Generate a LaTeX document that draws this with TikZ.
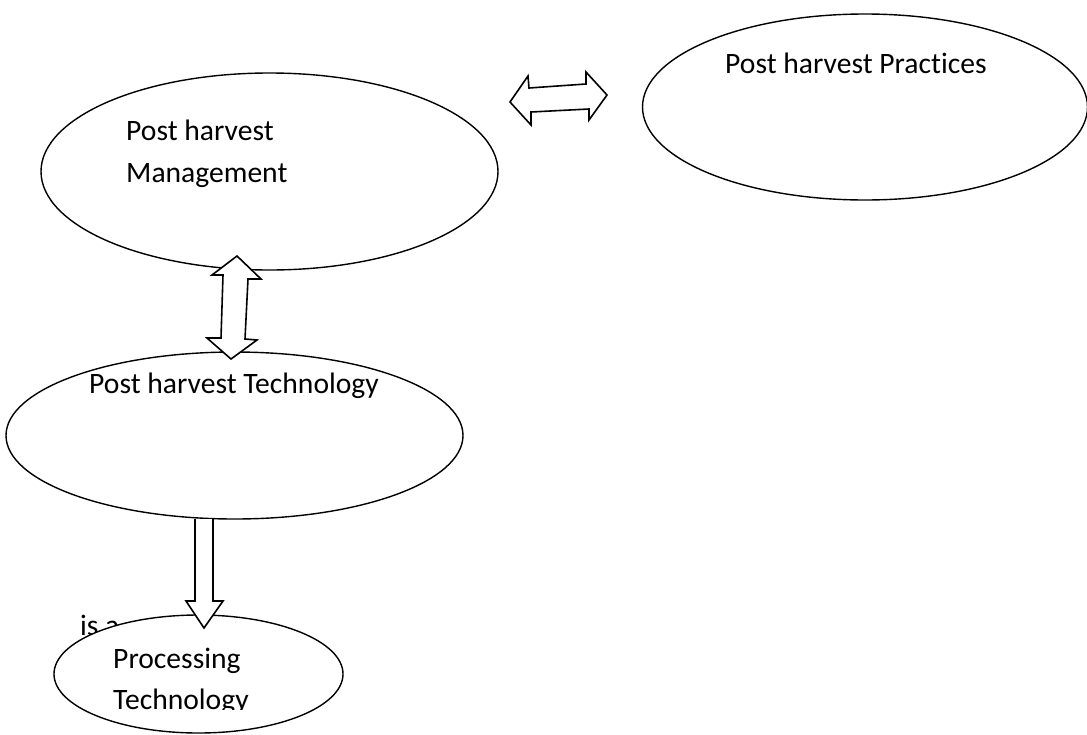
\documentclass[tikz,border=0pt]{standalone}
\usepackage{fontspec}
\setmainfont{Carlito}[Ligatures=NoCommon]
\usetikzlibrary{shapes.geometric}
\begin{document}
\begin{tikzpicture}[x=1pt,y=-1pt,
  oval/.style={draw=black,fill=white,line width=1.4pt,ellipse,inner sep=0pt},
  lbl/.style={anchor=base west,inner sep=0pt,font=\fontsize{29.6}{41}\selectfont},
  blockarrow/.style={draw=black,fill=white,line width=1.6pt,line join=miter}]
\useasboundingbox[fill=white] (0,0) rectangle (1087,734);
% ellipses
\node[oval,minimum width=457pt,minimum height=197pt] (mgmt) at (269.5,171.5) {};
\node[oval,minimum width=445pt,minimum height=186pt] (prac) at (865,107) {};
\node[oval,minimum width=457pt,minimum height=167pt] (tech) at (234.5,435.5) {};
% texts
\node[lbl] (tprac) at (725,73) {Post harvest Practices};
\node[lbl] (tmgmt1) at (126,140) {Post harvest};
\node[lbl] (tmgmt2) at (126,182) {Management};
\node[lbl] (ttech) at (89,393) {Post harvest Technology};
\node[lbl] (tisa) at (80,635) {is a};
% processing ellipse on top of "is a"
\node[oval,minimum width=289pt,minimum height=118pt] (proc) at (198.5,674) {};
\begin{scope}
\clip (0,600) rectangle (1087,709);
\node[lbl] (tproc1) at (113,668) {Processing};
\node[lbl] (tproc2) at (113,709) {Technology};
\end{scope}
% block arrows
\draw[blockarrow] (510,102) coordinate (hl) -- (528,76) -- (529,88) -- (586,84) -- (586,72)
  -- (607,95) coordinate (hr) -- (589,120) -- (589,109) -- (531,112) -- (531,125) -- cycle;
\draw[blockarrow] (237,256) coordinate (vt) -- (261,279) -- (248,279) -- (245,339) -- (257,340)
  -- (231,359) coordinate (vb) -- (207,338) -- (221,338) -- (223,275) -- (212,275) -- cycle;
\draw[blockarrow] (195,519) coordinate (ds) -- (195,601) -- (186,601) -- (204,628) coordinate (dt)
  -- (223,601) -- (213,601) -- (213,519);
\end{tikzpicture}
\end{document}
